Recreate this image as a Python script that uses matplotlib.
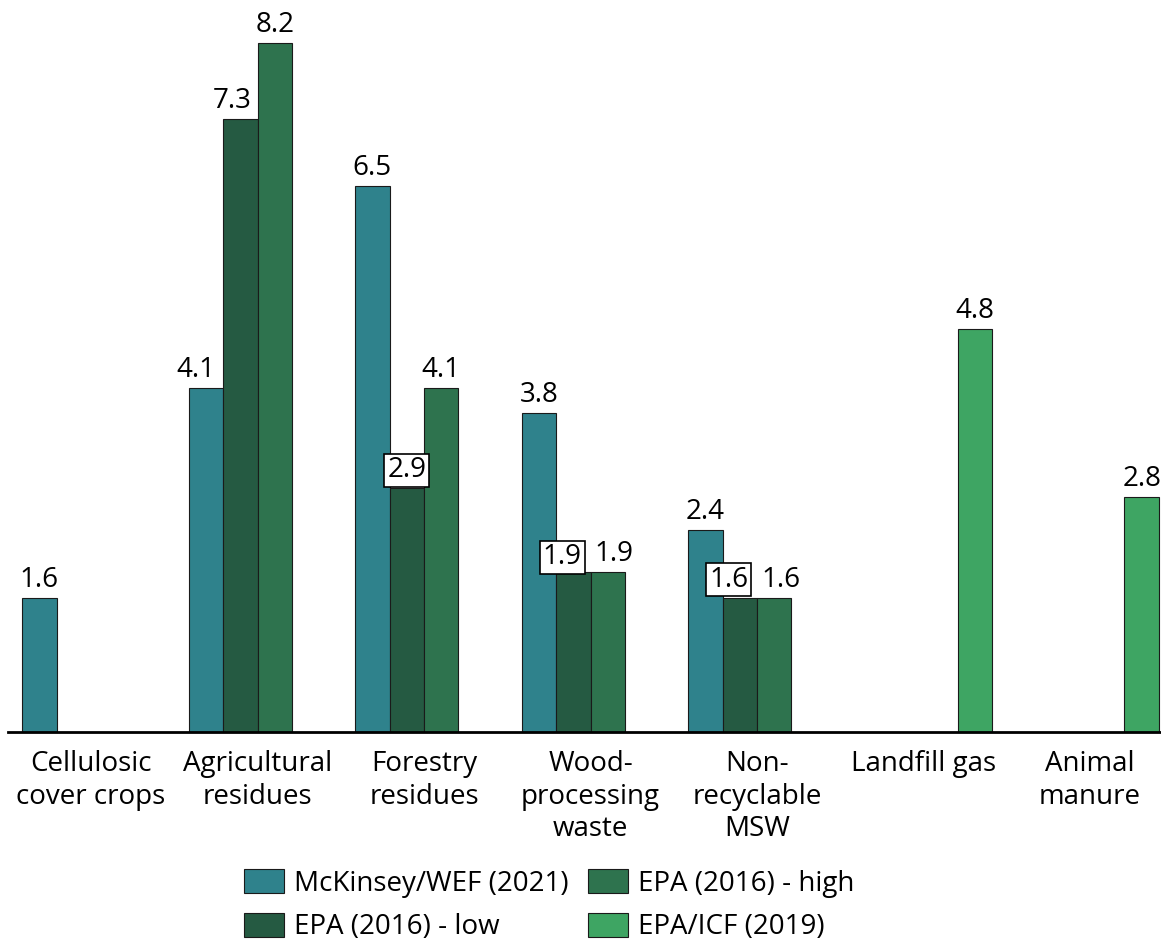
import numpy as np
import matplotlib
matplotlib.use("Agg")
import matplotlib.pyplot as plt

plt.rcParams["font.family"] = ["Open Sans", "DejaVu Sans"]

# ---- data -------------------------------------------------------------
categories = [
    "Cellulosic\ncover crops",
    "Agricultural\nresidues",
    "Forestry\nresidues",
    "Wood-\nprocessing\nwaste",
    "Non-\nrecyclable\nMSW",
    "Landfill gas",
    "Animal\nmanure",
]
series_names = [
    "McKinsey/WEF (2021)",
    "EPA (2016) - low",
    "EPA (2016) - high",
    "EPA/ICF (2019)",
]
mckinsey_wef_2021 = [1.6, 4.1, 6.5, 3.8, 2.4, np.nan, np.nan]
epa_2016_low = [np.nan, 7.3, 2.9, 1.9, 1.6, np.nan, np.nan]
epa_2016_high = [np.nan, 8.2, 4.1, 1.9, 1.6, np.nan, np.nan]
epa_icf_2019 = [np.nan, np.nan, np.nan, np.nan, np.nan, 4.8, 2.8]

# ---- styling ----------------------------------------------------------
colors = ["#2F828C", "#255A42", "#2E734E", "#3EA563"]
FS = 20
bar_w = 0.207

# value labels drawn in a white box (series index, category index)
boxed = {(1, 2), (1, 3), (1, 4)}
# per-label nudges in pixels (dx, dy) relative to the bar top centre
nudge = {
    (0, 1): (-10, 0),
    (1, 1): (-8, 0),
    (1, 3): (-11, -3),
    (1, 4): (-11, 0),
    (2, 3): (6, 0),
    (2, 4): (7, 0),
}

fig = plt.figure(figsize=(11.61, 9.42), dpi=100)
ax = fig.add_axes([8 / 1161, 1 - 732 / 942, 1 - 8 / 1161, 732 / 942])

x = np.arange(len(categories))
all_series = [mckinsey_wef_2021, epa_2016_low, epa_2016_high, epa_icf_2019]

for k, (name, vals, col) in enumerate(zip(series_names, all_series, colors)):
    pos = x + (k - 1.5) * bar_w
    v = np.array(vals, dtype=float)
    ax.bar(pos, v, width=bar_w, color=col, edgecolor="#1a1a1a",
           linewidth=0.8, label=name, zorder=2)
    for i, (p, val) in enumerate(zip(pos, v)):
        if np.isnan(val):
            continue
        dx, dy = nudge.get((k, i), (0, 0))
        kw = {}
        if (k, i) in boxed:
            kw["bbox"] = dict(boxstyle="square,pad=0.1", fc="white",
                              ec="black", lw=1.2)
        ax.annotate(f"{val:.1f}", xy=(p, val), xytext=(dx, 11 + dy),
                    textcoords="offset pixels", ha="center", va="baseline",
                    fontsize=FS, color="black", zorder=4, **kw)

ax.set_xlim((8 - 91) / 166.5, (1161 - 91) / 166.5)
ax.set_ylim(0, 732 / 84.0)

for s in ["top", "right", "left"]:
    ax.spines[s].set_visible(False)
ax.spines["bottom"].set_linewidth(2.0)
ax.spines["bottom"].set_color("black")
ax.spines["bottom"].set_zorder(5)
ax.set_yticks([])
ax.set_xticks(x)
ax.set_xticklabels(categories, fontsize=FS, linespacing=1.22,
                   multialignment="center")
ax.tick_params(axis="x", length=0, pad=13)

handles, labels = ax.get_legend_handles_labels()
fig.legend(handles, labels, ncol=2, loc="center",
           bbox_to_anchor=(549 / 1161, 1 - 905 / 942), frameon=False,
           fontsize=FS, handlelength=1.44, handleheight=1.0,
           handletextpad=0.36, columnspacing=0.7, labelspacing=0.54,
           borderpad=0, borderaxespad=0)

fig.savefig("out.png", dpi=100)
